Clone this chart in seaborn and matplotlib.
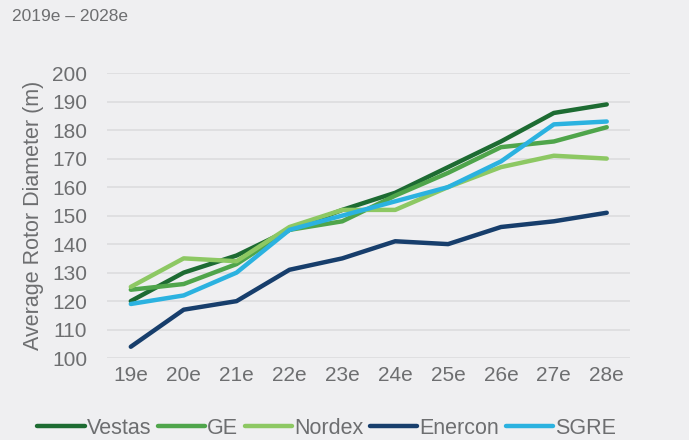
import matplotlib
matplotlib.use("Agg")
import matplotlib.pyplot as plt
import seaborn as sns
import pandas as pd

years = ["19e", "20e", "21e", "22e", "23e", "24e", "25e", "26e", "27e", "28e"]
vestas = [120, 130, 136, 145, 152, 158, 167, 176, 186, 189]
ge = [124, 126, 133, 145, 148, 157, 165, 174, 176, 181]
nordex = [125, 135, 134, 146, 152, 152, 160, 167, 171, 170]
enercon = [104, 117, 120, 131, 135, 141, 140, 146, 148, 151]
sgre = [119, 122, 130, 145, 150, 155, 160, 169, 182, 183]
series_names = ["Vestas", "GE", "Nordex", "Enercon", "SGRE"]
colors = ["#1d6b32", "#4fa54b", "#8dc863", "#173e6c", "#2bb2e0"]

rows = []
for name, vals in zip(series_names, [vestas, ge, nordex, enercon, sgre]):
    for i, (y, v) in enumerate(zip(years, vals)):
        rows.append({"idx": i, "year": y, "company": name, "value": v})
df = pd.DataFrame(rows)

sns.set_theme(style="white")
plt.rcParams['font.family'] = ['Liberation Sans', 'DejaVu Sans']
plt.rcParams['ytick.major.pad'] = 14
plt.rcParams['xtick.major.pad'] = 6
bg = "#efeff1"
fig = plt.figure(figsize=(6.89, 4.40), dpi=100, facecolor=bg)
ax = fig.add_axes([0.155, 0.186, 0.759, 0.648])
ax.set_facecolor(bg)

sns.lineplot(data=df, x="idx", y="value", hue="company", hue_order=series_names,
             palette=colors, linewidth=3.2, ax=ax, legend=True)

ax.set_ylim(100, 200)
ax.set_yticks(range(100, 201, 10))
ax.set_xlim(-0.454, 9.435)
ax.set_xticks(range(len(years)))
ax.set_xticklabels(years)
ax.yaxis.grid(True, color="#dcdcde", linewidth=1.2)
ax.xaxis.grid(False)
for s in ax.spines.values():
    s.set_visible(False)
tc = "#6d6e70"
ax.tick_params(axis="both", colors=tc, labelsize=15, length=0)
ax.tick_params(axis="y", pad=14)
ax.tick_params(axis="x", pad=6)
ax.set_xlabel("")
ax.set_ylabel("Average Rotor Diameter (m)", color=tc, fontsize=15.5, labelpad=6)

handles, labels = ax.get_legend_handles_labels()
ax.legend_.remove()
fig.legend(handles, labels, loc="center", bbox_to_anchor=(0.474, 0.027), ncol=5,
           frameon=False, fontsize=15.5, handlelength=2.2, handletextpad=0.1,
           columnspacing=0.3, labelcolor=tc)

fig.text(0.017, 0.962, "2019e \u2013 2028e", color=tc, fontsize=12.5, va="center", ha="left")

fig.savefig("out.png", dpi=100, facecolor=bg)
